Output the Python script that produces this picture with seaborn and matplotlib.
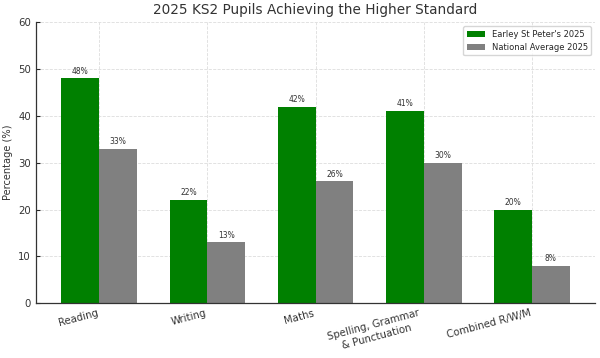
import matplotlib
matplotlib.use("Agg")
from matplotlib import pyplot as plt
import seaborn as sns
import pandas as pd

# data
subjects = ["Reading", "Writing", "Maths", "Spelling, Grammar\n& Punctuation", "Combined R/W/M"]
school_name = "Earley St Peter's 2025"
national_name = "National Average 2025"
school_pct = [48, 22, 42, 41, 20]
national_pct = [33, 13, 26, 30, 8]

df = pd.DataFrame({
    "subject": subjects * 2,
    "pct": school_pct + national_pct,
    "group": [school_name] * len(subjects) + [national_name] * len(subjects),
})

sns.set_style("white")
plt.rcParams["font.family"] = ["DejaVu Sans"]

fig, ax = plt.subplots(figsize=(6, 3.58), dpi=100)
sns.barplot(data=df, x="subject", y="pct", hue="group", width=0.7,
            palette=["green", "gray"], saturation=1, linewidth=0, ax=ax)

# percentage labels above bars
for cont in ax.containers:
    ax.bar_label(cont, labels=[f"{v:.0f}%" for v in cont.datavalues],
                 fontsize=5.5, color="#333333", padding=2)

ax.set_ylim(0, 60)
ax.set_xlim(-0.585, 4.585)
ax.set_title("2025 KS2 Pupils Achieving the Higher Standard", fontsize=9.8, color="#333333", pad=6)
ax.set_ylabel("Percentage (%)", fontsize=7.1, color="#333333", labelpad=4)
ax.set_xlabel("")
ax.set_xticks(range(len(subjects)))
ax.set_xticklabels(subjects, rotation=15, ha="right", multialignment="center",
                   fontsize=7.3, color="#333333")
ax.tick_params(axis="y", labelsize=7.3, labelcolor="#333333", direction="in", length=3, left=True)
ax.tick_params(axis="x", length=0)
ax.grid(True, linestyle="--", color="#dddddd", linewidth=0.6)
ax.set_axisbelow(True)
sns.despine(ax=ax, top=True, right=True)
for s in ["left", "bottom"]:
    ax.spines[s].set_color("#333333")
    ax.spines[s].set_linewidth(0.9)

ax.legend(fontsize=6.0, loc="upper right", frameon=True, handlelength=2.2)

fig.subplots_adjust(left=0.06, right=0.992, top=0.938, bottom=0.153)
fig.savefig("out.png", dpi=100)
